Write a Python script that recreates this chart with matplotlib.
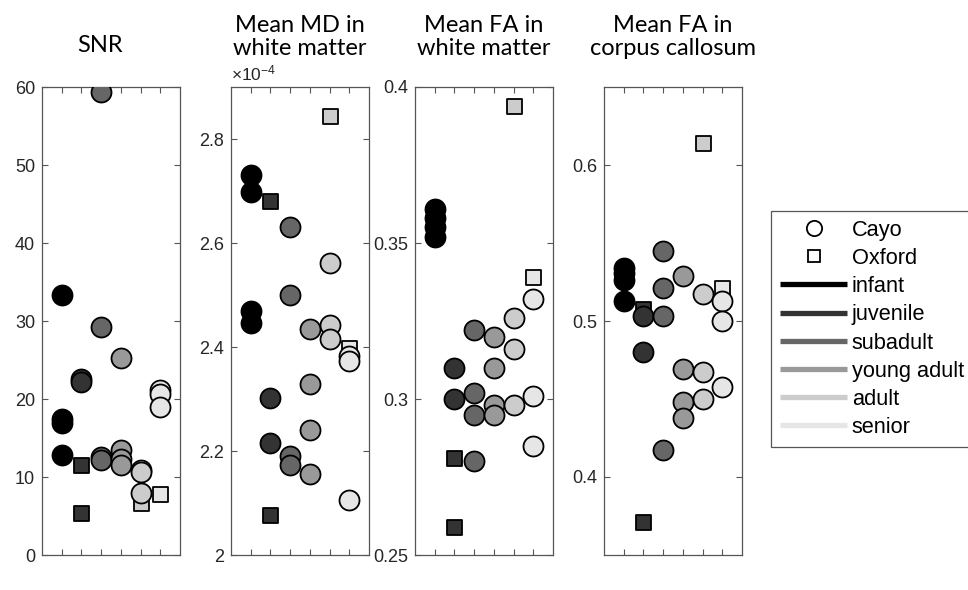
import matplotlib
matplotlib.use("Agg")
import matplotlib.pyplot as plt
from matplotlib.lines import Line2D

plt.rcParams["font.family"] = ["Liberation Sans", "DejaVu Sans"]
plt.rcParams["mathtext.default"] = "regular"

# Age groups and their grey levels
age_groups = ["infant", "juvenile", "subadult", "young adult", "adult", "senior"]
group_grays = ["#000000", "#333333", "#666666", "#999999", "#cccccc", "#e6e6e6"]

# SNR per subject, grouped by age class
snr_cayo = [[33.3, 17.4, 16.9, 12.8], [22.6, 22.2], [59.3, 29.2, 12.6, 12.2],
            [25.3, 13.4, 12.3, 11.6], [10.9, 10.6, 8.0], [21.1, 20.7, 19.0]]
snr_oxford = [[], [11.6, 5.4], [], [], [6.7], [7.8]]

# Mean MD in white matter (x 1e-4)
md_cayo = [[2.730, 2.698, 2.469, 2.447], [2.302, 2.215], [2.630, 2.500, 2.191, 2.174],
           [2.435, 2.329, 2.241, 2.156], [2.561, 2.443, 2.416], [2.382, 2.374, 2.105]]
md_oxford = [[], [2.681, 2.077], [], [], [2.844], [2.399]]

# Mean FA in white matter
fa_wm_cayo = [[0.361, 0.358, 0.355, 0.352], [0.310, 0.300], [0.322, 0.302, 0.295, 0.280],
              [0.320, 0.310, 0.298, 0.295], [0.326, 0.316, 0.298], [0.332, 0.301, 0.285]]
fa_wm_oxford = [[], [0.281, 0.259], [], [], [0.394], [0.339]]

# Mean FA in corpus callosum
fa_cc_cayo = [[0.534, 0.531, 0.526, 0.513], [0.503, 0.480], [0.545, 0.521, 0.503, 0.417],
              [0.529, 0.469, 0.448, 0.438], [0.517, 0.467, 0.450], [0.513, 0.500, 0.458]]
fa_cc_oxford = [[], [0.508, 0.371], [], [], [0.614], [0.521]]

titles = [["SNR"], ["Mean MD in", "white matter"], ["Mean FA in", "white matter"],
          ["Mean FA in", "corpus callosum"]]
y_limits = [(0, 60), (2.0, 2.9), (0.25, 0.40), (0.35, 0.65)]
y_ticks = [[0, 10, 20, 30, 40, 50, 60], [2.0, 2.2, 2.4, 2.6, 2.8],
           [0.25, 0.30, 0.35, 0.40], [0.4, 0.5, 0.6]]
y_ticklabels = [["0", "10", "20", "30", "40", "50", "60"], ["2", "2.2", "2.4", "2.6", "2.8"],
                ["0.25", "0.3", "0.35", "0.4"], ["0.4", "0.5", "0.6"]]
panels = [(snr_cayo, snr_oxford), (md_cayo, md_oxford),
          (fa_wm_cayo, fa_wm_oxford), (fa_cc_cayo, fa_cc_oxford)]

W, H = 968, 590
fig = plt.figure(figsize=(W / 100, H / 100), dpi=100)

ax_left_px = [42, 231, 415, 604]
ax_w_px, ax_bottom_px, ax_h_px = 138, 35, 468
frame_color = "#555555"
text_color = "#262626"
circle_s = 14.4 ** 2
square_s = 10.8 ** 2

title_x_px = [100, 300, 484, 673]
title_fs = 17

for i, (cayo, oxford) in enumerate(panels):
    ax = fig.add_axes([ax_left_px[i] / W, ax_bottom_px / H, ax_w_px / W, ax_h_px / H])
    # Oxford squares go underneath the Cayo circles
    for g, vals in enumerate(oxford):
        if vals:
            ax.scatter([g + 1] * len(vals), vals, marker="s", s=square_s,
                       facecolor=group_grays[g], edgecolor="black", linewidth=1.3, zorder=2)
    for g, vals in enumerate(cayo):
        ax.scatter([g + 1] * len(vals), vals, marker="o", s=circle_s,
                   facecolor=group_grays[g], edgecolor="black", linewidth=1.3, zorder=3)
    ax.set_xlim(0, 7)
    ax.set_ylim(*y_limits[i])
    ax.set_xticks(range(1, 7))
    ax.set_xticklabels([])
    ax.set_yticks(y_ticks[i])
    ax.set_yticklabels(y_ticklabels[i])
    ax.tick_params(direction="in", length=4.5, width=0.8, color=frame_color,
                   top=True, right=True, labelsize=13, labelcolor=text_color, pad=5)
    for sp in ax.spines.values():
        sp.set_color(frame_color)
        sp.set_linewidth(0.9)
    if i == 1:
        ax.text(0.0, 1.008, r"$\times10^{-4}$", transform=ax.transAxes,
                ha="left", va="bottom", fontsize=12.5, color=text_color)

    lines = titles[i]
    if len(lines) == 1:
        fig.text(title_x_px[i] / W, 1 - 52 / H, lines[0], ha="center", va="baseline",
                 fontsize=title_fs, family="Lato", color="black")
    else:
        fig.text(title_x_px[i] / W, 1 - 32 / H, lines[0], ha="center", va="baseline",
                 fontsize=title_fs, family="Lato", color="black")
        fig.text(title_x_px[i] / W, 1 - 55 / H, lines[1], ha="center", va="baseline",
                 fontsize=title_fs, family="Lato", color="black")

# Legend: site markers, then age-group line swatches
handles = [
    Line2D([], [], linestyle="none", marker="o", markersize=11, markerfacecolor="white",
           markeredgecolor="black", markeredgewidth=1.3),
    Line2D([], [], linestyle="none", marker="s", markersize=9, markerfacecolor="white",
           markeredgecolor="black", markeredgewidth=1.3),
]
labels = ["Cayo", "Oxford"]
for g, name in enumerate(age_groups):
    handles.append(Line2D([], [], color=group_grays[g], linewidth=3.8, solid_capstyle="butt"))
    labels.append(name)

leg = fig.legend(handles, labels, loc="upper left",
                 bbox_to_anchor=(771 / W, 1 - 211 / H), frameon=True, fancybox=False,
                 edgecolor=frame_color, framealpha=1, borderaxespad=0, fontsize=15.7,
                 handlelength=3.1, handletextpad=0.2, labelspacing=0.33, borderpad=0.4)
leg.get_frame().set_linewidth(0.9)
for t in leg.get_texts():
    t.set_color("black")

fig.savefig("out.png", dpi=100)
